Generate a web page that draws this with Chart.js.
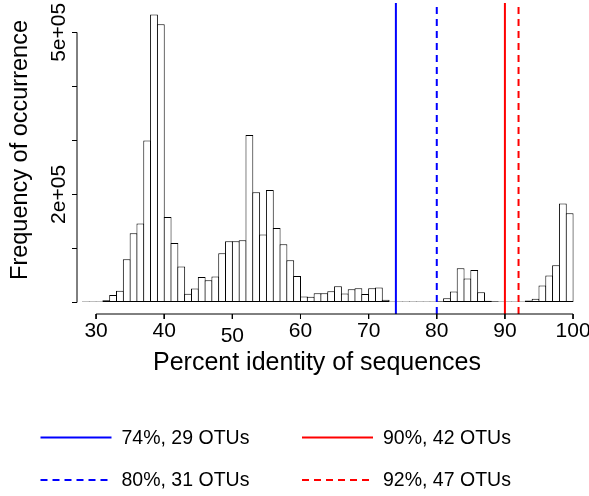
<!DOCTYPE html>
<html>
<head>
<meta charset="utf-8">
<title>Percent identity histogram</title>
<script src="https://cdn.jsdelivr.net/npm/chart.js@4/dist/chart.umd.min.js"></script>
<style>
  html, body { margin: 0; padding: 0; background: #fff; }
  #chart { display: block; }
</style>
</head>
<body>
<canvas id="chart" width="589" height="496"></canvas>
<script>
// histogram bins [k, k+1)
const binStarts = [
    28, 29, 30, 31, 32, 33, 34, 35, 36, 37, 38, 39, 40, 41, 42, 43, 44, 45,
    46, 47, 48, 49, 50, 51, 52, 53, 54, 55, 56, 57, 58, 59, 60, 61, 62, 63,
    64, 65, 66, 67, 68, 69, 70, 71, 72, 73, 74, 75, 76, 77, 78, 79, 80, 81,
    82, 83, 84, 85, 86, 87, 88, 89, 90, 91, 92, 93, 94, 95, 96, 97, 98, 99
];
const counts = [
    800, 1000, 1500, 4000, 14000, 21600, 80000, 128000, 146000, 300000, 533000, 515000, 158000, 110000, 66700, 16000, 26000, 47000,
    41000, 48000, 91000, 113500, 113500, 115000, 310000, 204000, 126000, 208000, 138000, 108000, 78000, 49000, 11000, 10500, 17000, 17000,
    21000, 30000, 16700, 24700, 26500, 15500, 26500, 27800, 5000, 1200, 800, 700, 600, 900, 1000, 1500, 2500, 8000,
    20400, 63500, 44400, 60000, 19000, 3000, 2500, 1200, 600, 500, 800, 3700, 6800, 31500, 50000, 69000, 183000, 165000
];

const cutoffs = [74, 80, 90, 92];
const cutoffLabels = ['74%, 29 OTUs', '80%, 31 OTUs', '90%, 42 OTUs', '92%, 47 OTUs'];

const xTickValues = [30, 40, 50, 60, 70, 80, 90, 100];
const yTickValues = [0, 100000, 200000, 300000, 400000, 500000];
const yTickLabels = ['', '', '2e+05', '', '', '5e+05'];

const xTitle = 'Percent identity of sequences';
const yTitle = 'Frequency of occurrence';

const FONT = "'Liberation Sans', Arial, Helvetica, sans-serif";
Chart.defaults.font.family = FONT;
Chart.defaults.color = '#000';

const lineStyles = [
    { color: '#0000ff', dash: [] },
    { color: '#0000ff', dash: [7, 5] },
    { color: '#ff0000', dash: [] },
    { color: '#ff0000', dash: [7, 5] }
];

// R style ranges: 4% extra on each side
const yPeak = Math.max(...counts);
const yMin = -0.04 * yPeak;
const yMax = 1.04 * yPeak;
const xMin = 30 - 0.04 * 70;
const xMax = 102.34; // right side of the plot region is cut by the picture
const tickLen = 5 * (yMax - yMin) / 311; // 5px tick marks under the x axis

const histData = binStarts.map((b, i) => ({ x: b + 0.5, y: counts[i] }));

const cutoffSets = cutoffs.map((c, i) => ({
    type: 'line',
    label: cutoffLabels[i],
    data: [{ x: c, y: yMin }, { x: c, y: yMax }],
    borderColor: lineStyles[i].color,
    borderDash: lineStyles[i].dash,
    borderWidth: 2,
    pointRadius: 0,
    fill: false,
    order: 0
}));

// base R axes: lines only from first to last tick, x tick marks below
const axisLine = (label, data) => ({
    type: 'line',
    label: label,
    data: data,
    borderColor: '#000',
    borderWidth: 1,
    pointRadius: 0,
    fill: false,
    spanGaps: false,
    clip: false,
    order: -1
});
const xTickMarks = [];
xTickValues.forEach(v => {
    xTickMarks.push({ x: v, y: yMin }, { x: v, y: yMin - tickLen }, { x: v, y: null });
});
const axisSets = [
    axisLine('x axis', [{ x: xTickValues[0], y: yMin }, { x: xTickValues[xTickValues.length - 1], y: yMin }]),
    axisLine('y axis', [{ x: xMin, y: yTickValues[0] }, { x: xMin, y: yTickValues[yTickValues.length - 1] }]),
    axisLine('x ticks', xTickMarks)
];

// axis titles, placed like the R figure
const axisTitles = {
    id: 'axistitles',
    afterDraw(chart) {
        const ctx = chart.ctx;
        ctx.save();
        ctx.fillStyle = '#000';
        ctx.textAlign = 'center';
        ctx.textBaseline = 'middle';
        ctx.font = '25px ' + FONT;
        ctx.fillText(xTitle, 317, 363);
        ctx.translate(21, 150);
        ctx.rotate(-Math.PI / 2);
        ctx.font = '23.5px ' + FONT;
        ctx.fillText(yTitle, 0, 0);
        ctx.restore();
    }
};

// legend in two columns under the plot
const cutoffLegend = {
    id: 'cutofflegend',
    afterDraw(chart) {
        const ctx = chart.ctx;
        const cols = [40.5, 302];
        const rows = [437.5, 480];
        const lineLen = 71;
        ctx.save();
        ctx.font = '19.5px ' + FONT;
        ctx.textBaseline = 'middle';
        ctx.textAlign = 'left';
        chart.data.datasets.filter(d => cutoffLabels.includes(d.label)).forEach((d, i) => {
            const cx = cols[Math.floor(i / 2)];
            const cy = rows[i % 2];
            ctx.strokeStyle = d.borderColor;
            ctx.lineWidth = 2;
            ctx.setLineDash(d.borderDash);
            ctx.beginPath();
            ctx.moveTo(cx, cy);
            ctx.lineTo(cx + lineLen, cy);
            ctx.stroke();
            ctx.setLineDash([]);
            ctx.fillStyle = '#000';
            ctx.fillText(d.label, cx + lineLen + 10, cy + 1);
        });
        ctx.restore();
    }
};

new Chart(document.getElementById('chart'), {
    type: 'bar',
    data: {
        datasets: [
            ...axisSets,
            ...cutoffSets,
            {
                type: 'bar',
                label: 'Frequency',
                data: histData,
                backgroundColor: '#ffffff',
                borderColor: '#000000',
                borderWidth: 1,
                borderSkipped: false,
                barPercentage: 1.147,
                categoryPercentage: 1,
                minBarLength: 1,
                order: 1
            }
        ]
    },
    options: {
        responsive: false,
        animation: false,
        layout: { padding: { top: 3, left: 0, right: 0, bottom: 119 } },
        plugins: {
            legend: { display: false },
            tooltip: { enabled: false }
        },
        scales: {
            x: {
                type: 'linear',
                min: xMin,
                max: xMax,
                offset: false,
                afterBuildTicks: s => { s.ticks = xTickValues.map(v => ({ value: v })); },
                afterFit: s => { s.height = 63; s.paddingLeft = 0; s.paddingRight = 0; },
                // tick marks come from the 'x ticks' dataset, the grid only keeps the spacing
                grid: { display: true, offset: false, drawOnChartArea: false, drawTicks: true, tickLength: 5, color: 'rgba(0,0,0,0)' },
                border: { display: false },
                ticks: {
                    autoSkip: false,
                    maxRotation: 0,
                    padding: 0,
                    color: '#000',
                    // the 50 label sits a little lower in the original
                    font: c => ({ size: 21, lineHeight: (c.tick && c.tick.value === 50) ? 1.62 : 1.2 })
                },
                title: { display: false }
            },
            y: {
                type: 'linear',
                min: yMin,
                max: yMax,
                afterBuildTicks: s => { s.ticks = yTickValues.map(v => ({ value: v })); },
                afterFit: s => { s.width = 77; s.paddingTop = 0; s.paddingBottom = 0; },
                grid: { display: true, offset: false, drawOnChartArea: false, drawTicks: true, tickLength: 5, color: '#000', lineWidth: 1 },
                border: { display: false },
                ticks: {
                    autoSkip: false,
                    minRotation: 90,
                    maxRotation: 90,
                    crossAlign: 'center',
                    padding: -17,
                    color: '#000',
                    font: { size: 21 },
                    callback: v => yTickLabels[yTickValues.indexOf(v)]
                },
                title: { display: false }
            }
        }
    },
    plugins: [axisTitles, cutoffLegend]
});
</script>
</body>
</html>
